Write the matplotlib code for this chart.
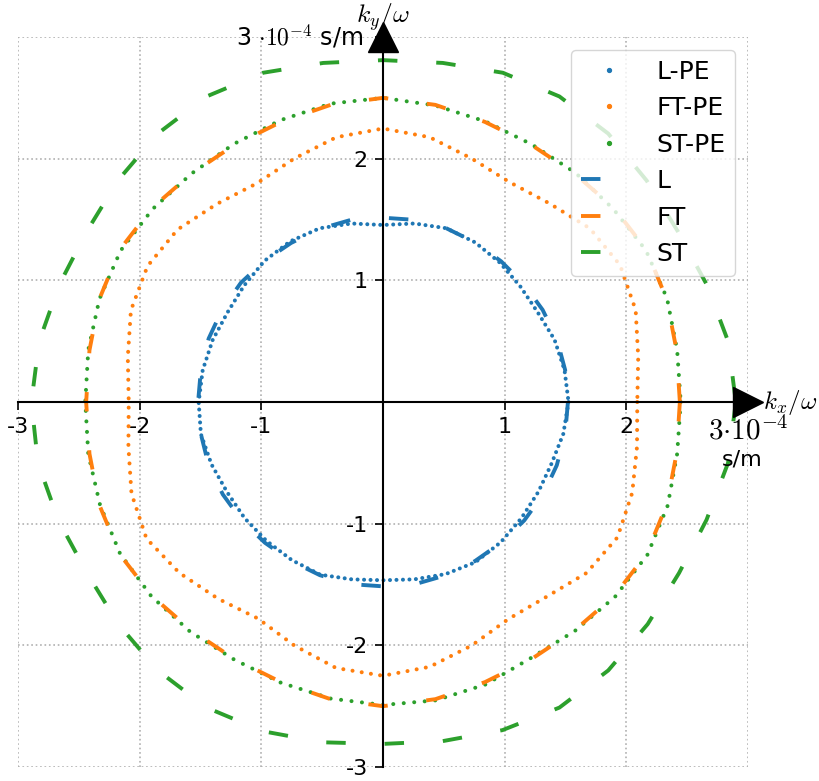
import numpy as np
import matplotlib.pyplot as plt
from matplotlib.lines import Line2D

plt.rcParams['mathtext.fontset'] = 'cm'

# slowness k/omega in 1e-4 s/m, sampled every 10 deg counter-clockwise from +k_x
angle_deg = np.arange(0, 360, 10)

r_L_PE = [1.525, 1.515, 1.50, 1.47, 1.475, 1.495, 1.515, 1.52, 1.49, 1.455,
          1.49, 1.52, 1.525, 1.515, 1.49, 1.475, 1.49, 1.505, 1.515, 1.52,
          1.50, 1.48, 1.485, 1.49, 1.50, 1.51, 1.48, 1.465, 1.48, 1.505,
          1.52, 1.505, 1.485, 1.475, 1.475, 1.505]
r_FT_PE = [2.09, 2.13, 2.21, 2.25, 2.22, 2.13, 2.085, 2.13, 2.21, 2.248,
           2.21, 2.13, 2.075, 2.125, 2.205, 2.235, 2.205, 2.13, 2.09, 2.125,
           2.20, 2.245, 2.185, 2.11, 2.055, 2.13, 2.22, 2.25, 2.21, 2.13,
           2.06, 2.09, 2.185, 2.225, 2.18, 2.12]
r_ST_PE = [2.447, 2.455, 2.485, 2.495, 2.47, 2.46, 2.445, 2.455, 2.475, 2.50,
           2.49, 2.465, 2.45, 2.45, 2.47, 2.49, 2.48, 2.46, 2.447, 2.46,
           2.475, 2.495, 2.485, 2.465, 2.445, 2.455, 2.475, 2.49, 2.49, 2.47,
           2.43, 2.455, 2.49, 2.51, 2.49, 2.455]
r_L = [1.52, 1.52, 1.52, 1.515, 1.51, 1.51, 1.515, 1.52, 1.52, 1.515,
       1.52, 1.515, 1.51, 1.515, 1.525, 1.525, 1.525, 1.52, 1.52, 1.52,
       1.525, 1.52, 1.515, 1.51, 1.51, 1.515, 1.52, 1.515, 1.52, 1.515,
       1.51, 1.51, 1.515, 1.52, 1.52, 1.52]
r_FT = [2.44, 2.45, 2.48, 2.50, 2.48, 2.45, 2.44, 2.45, 2.48, 2.50,
        2.48, 2.45, 2.44, 2.45, 2.48, 2.50, 2.48, 2.45, 2.44, 2.45,
        2.48, 2.50, 2.48, 2.45, 2.44, 2.45, 2.48, 2.50, 2.48, 2.45,
        2.44, 2.45, 2.48, 2.50, 2.48, 2.45]
r_ST = [2.90, 2.88, 2.83, 2.80, 2.83, 2.88, 2.90, 2.88, 2.83, 2.81,
        2.83, 2.88, 2.90, 2.88, 2.84, 2.81, 2.83, 2.87, 2.89, 2.88,
        2.84, 2.81, 2.84, 2.88, 2.90, 2.88, 2.84, 2.81, 2.83, 2.87,
        2.90, 2.88, 2.84, 2.81, 2.83, 2.88]

ticks = [-3, -2, -1, 1, 2, 3]
tick_labels = ['-3', '-2', '-1', '1', '2', '']
x_scale_label = '$3{\\cdot}10^{-4}$'
unit_label = 's/m'
y_unit_label = '3 $\\cdot10^{-4}$ s/m'


def closed_xy(r):
    # close the curve and walk it clockwise, starting on +k_x
    th = np.deg2rad(np.append(angle_deg, 360))[::-1]
    rr = np.append(r, r[0])[::-1]
    return rr * np.cos(th), rr * np.sin(th)


fig = plt.figure(figsize=(8.19, 7.81), dpi=100)
ax = fig.add_axes([0.022, 0.0179, 0.8913, 0.9347])

# PE results as dotted curves
dot_lw = 2.9
for r, c, gap in [(r_L_PE, 'C0', 1.6), (r_FT_PE, 'C1', 2.3), (r_ST_PE, 'C2', 2.6)]:
    x, y = closed_xy(r)
    ax.plot(x, y, color=c, lw=dot_lw, linestyle=(0, (0.01, gap)),
            dash_capstyle='round', zorder=1.8)

lines = []
for r, c, name in [(r_L, 'C0', 'L'), (r_FT, 'C1', 'FT'), (r_ST, 'C2', 'ST')]:
    x, y = closed_xy(r)
    ln, = ax.plot(x, y, color=c, lw=2.8, linestyle=(0, (5, 10)), label=name)
    lines.append(ln)

pe_handles = [Line2D([], [], ls='none', marker='o', ms=2.8, color=c, label=n)
              for c, n in [('C0', 'L-PE'), ('C1', 'FT-PE'), ('C2', 'ST-PE')]]
ax.legend(handles=pe_handles + lines, loc='upper right', fontsize=18,
          handlelength=2.2)

ax.set_xlim(-3, 3)
ax.set_ylim(-3, 3)
ax.set_xticks(ticks)
ax.set_xticklabels(tick_labels)
ax.set_yticks(ticks)
ax.set_yticklabels(tick_labels)
ax.tick_params(length=6, width=1.2, labelsize=16, pad=5)
ax.grid(True, ls=':', color='#b0b0b0', lw=1.2)

# unit labels at the last tick of each axis
ax.text(3, -0.12, x_scale_label, fontsize=21, ha='center', va='top', clip_on=False)
ax.text(2.95, -0.47, unit_label, fontsize=16, ha='center', va='center', clip_on=False)
ax.text(-0.16, 3, y_unit_label, fontsize=17, ha='right', va='center', clip_on=False)

# axes through the origin with arrow heads
ax.spines['left'].set_position(('data', 0))
ax.spines['bottom'].set_position(('data', 0))
ax.spines['top'].set_visible(False)
ax.spines['right'].set_visible(False)
for s in ['left', 'bottom']:
    ax.spines[s].set_linewidth(1.5)
ax.plot(1, 0, '>k', ms=21, transform=ax.get_yaxis_transform(), clip_on=False)
ax.plot(0, 1, '^k', ms=21, transform=ax.get_xaxis_transform(), clip_on=False)
ax.text(3.12, 0, '$k_x/\\omega$', fontsize=18, ha='left', va='center', clip_on=False)
ax.text(0, 3.12, '$k_y/\\omega$', fontsize=18.5, ha='center', va='baseline', clip_on=False)

fig.savefig('out.png', dpi=100)
